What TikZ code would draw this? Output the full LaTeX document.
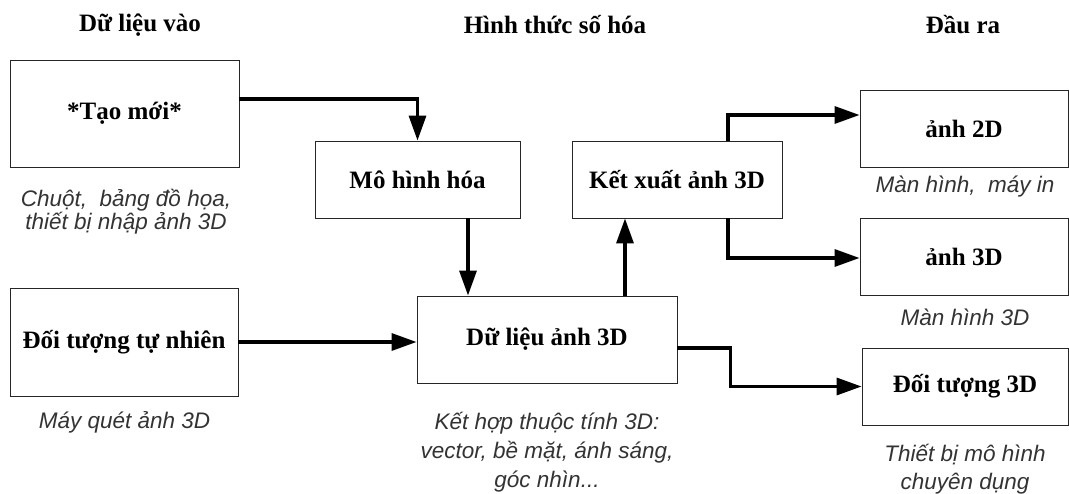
\documentclass[tikz,border=0pt]{standalone}
\usepackage{fontspec}
\setmainfont{Liberation Serif}
\newfontfamily\capfont{Liberation Sans}
\usetikzlibrary{arrows.meta}
\begin{document}
\begin{tikzpicture}[x=1pt,y=-1pt,
  box/.style={draw=black!85, line width=0.9pt, inner sep=0pt,
    font=\fontsize{25}{30}\selectfont\bfseries},
  ttl/.style={font=\fontsize{25}{30}\selectfont\bfseries},
  cap/.style={align=center, text=black!80,
    font=\capfont\itshape\fontsize{22.5}{#1}\selectfont},
  cap/.default=24,
  arr/.style={line width=3.3pt, -{Triangle[length=25pt,width=17pt]}}]
\useasboundingbox (0,0) rectangle (1069,494);

% column titles
\node[ttl] (t1) at (140,25) {Dữ liệu vào};
\node[ttl] (t2) at (555,25) {Hình thức số hóa};
\node[ttl] (t3) at (963,25) {Đầu ra};

% input boxes
\node[box, minimum width=229, minimum height=107] (tao) at (124.5,113.5) {*Tạo mới*};
\node[box, minimum width=228, minimum height=108] (dtn) at (124,342) {Đối tượng tự nhiên};

% processing boxes
\node[box, minimum width=205, minimum height=77] (mhh) at (417.5,179.5) {Mô hình hóa};
\node[box, minimum width=210, minimum height=77] (kx) at (677,179.5) {Kết xuất ảnh 3D};
\node[box, minimum width=260, minimum height=87] (dl) at (547,339.5) {Dữ liệu ảnh 3D};

% output boxes
\node[box, minimum width=208, minimum height=77] (a2) at (964,128.5) {ảnh 2D};
\node[box, minimum width=208, minimum height=77] (a3) at (964,256.5) {ảnh 3D};
\node[box, minimum width=206, minimum height=77] (dt3) at (965,386.5) {Đối tượng 3D};

% captions
\node[cap=23] (c1) at (126,211.5) {Chuột,\ \ bảng đồ họa,\\thiết bị nhập ảnh 3D};
\node[cap] (c2) at (124.5,422) {Máy quét ảnh 3D};
\node[cap=29] (c3) at (547,452) {Kết hợp thuộc tính 3D:\\vector, bề mặt, ánh sáng,\\góc nhìn...};
\node[cap] (c4) at (965,187) {Màn hình,\ \ máy in};
\node[cap] (c5) at (965,317) {Màn hình 3D};
\node[cap=28] (c6) at (965,469) {Thiết bị mô hình\\chuyên dụng};

% connectors
\draw[arr] ([yshift=14.5pt]tao.east) -| (mhh.north);
\draw[arr] ([xshift=50.5pt]mhh.south) -- ([xshift=50.5pt]mhh.south |- dl.north);
\draw[arr] (dtn.east) -- (dtn.east -| dl.west);
\draw[arr] ([xshift=-52pt]kx.south |- dl.north) -- ([xshift=-52pt]kx.south);
\draw[arr] ([xshift=51pt]kx.north) |- ([yshift=13.5pt]a2.west);
\draw[arr] ([xshift=51pt]kx.south) |- ([yshift=-1.5pt]a3.west);
\draw[arr] ([yshift=-8.5pt]dl.east) -- ++(53,0) |- (dt3.west);
\end{tikzpicture}
\end{document}
